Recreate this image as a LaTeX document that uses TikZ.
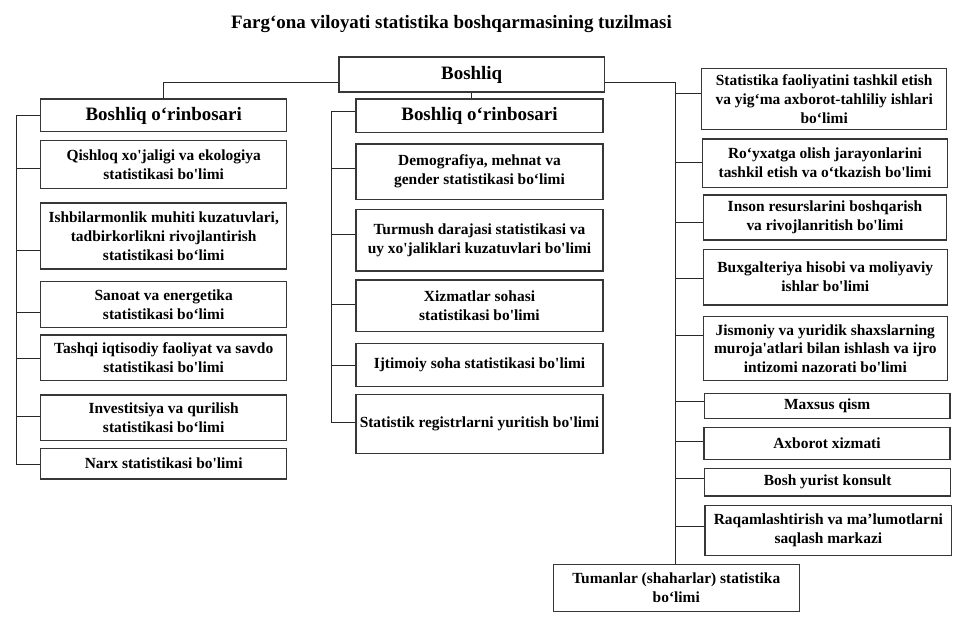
\documentclass[tikz,border=0pt]{standalone}
\usepackage{fontspec}
\setmainfont{Liberation Serif}
\newcommand{\ap}{\textquotesingle}
\definecolor{boxc}{RGB}{55,55,55}
\definecolor{wirec}{RGB}{40,40,40}
\begin{document}
\begin{tikzpicture}[x=1bp,y=-1bp,
  box/.style={draw=boxc, line width=1.3bp, align=center, inner sep=0pt,
    font=\fontsize{15.5}{19}\selectfont\bfseries},
  hdr/.style={box, font=\fontsize{19}{22}\selectfont\bfseries},
  wire/.style={draw=wirec, line width=1bp}]
\fill[white] (0,0) rectangle (968,640);
\useasboundingbox (0,0) rectangle (968,640);

\node[font=\fontsize{19}{22}\selectfont\bfseries] (title) at (451.5,24) {Farg‘ona viloyati statistika boshqarmasining tuzilmasi};

% top
\node[hdr, minimum width=265.3bp, minimum height=35bp] (boss) at (471.7,74.5) {Boshliq};
\node[hdr, minimum width=246bp, minimum height=32.7bp] (dep1) at (163.7,115.5) {Boshliq o‘rinbosari};
\node[hdr, minimum width=247bp, minimum height=33.4bp] (dep2) at (479.5,115.8) {Boshliq o‘rinbosari};

% left column
\node[box, minimum width=246bp, minimum height=47.6bp] (L1) at (163.7,164.5) {Qishloq xo\ap jaligi va ekologiya\\statistikasi bo\ap limi};
\node[box, minimum width=246bp, minimum height=66bp] (L2) at (163.7,236) {Ishbilarmonlik muhiti kuzatuvlari,\\tadbirkorlikni rivojlantirish\\statistikasi bo‘limi};
\node[box, minimum width=246bp, minimum height=46bp] (L3) at (163.7,304.7) {Sanoat va energetika\\statistikasi bo‘limi};
\node[box, minimum width=246bp, minimum height=45.7bp] (L4) at (163.7,357.85) {Tashqi iqtisodiy faoliyat va savdo\\statistikasi bo\ap limi};
\node[box, minimum width=246bp, minimum height=45.7bp] (L5) at (163.7,417.85) {Investitsiya va qurilish\\statistikasi bo‘limi};
\node[box, minimum width=246bp, minimum height=30.7bp] (L6) at (163.7,463.65) {Narx statistikasi bo\ap limi};

% centre column
\node[box, minimum width=247bp, minimum height=55.3bp] (C1) at (479.5,171.7) {Demografiya, mehnat va\\gender statistikasi bo‘limi};
\node[box, minimum width=247bp, minimum height=61.7bp] (C2) at (479.5,240.2) {Turmush darajasi statistikasi va\\uy xo\ap jaliklari kuzatuvlari bo\ap limi};
\node[box, minimum width=247bp, minimum height=51.7bp] (C3) at (479.5,305.8) {Xizmatlar sohasi\\statistikasi bo\ap limi};
\node[box, minimum width=247bp, minimum height=43.4bp] (C4) at (479.5,365) {Ijtimoiy soha statistikasi bo\ap limi};
\node[box, minimum width=247bp, minimum height=59bp] (C5) at (479.5,423.8) {Statistik registrlarni yuritish bo\ap limi};

% right column
\node[box, minimum width=245bp, minimum height=61bp] (R1) at (824.2,98.8) {Statistika faoliyatini tashkil etish\\va yig‘ma axborot-tahliliy ishlari\\bo‘limi};
\node[box, minimum width=244.6bp, minimum height=48.3bp] (R2) at (825,163.15) {Ro‘yxatga olish jarayonlarini\\tashkil etish va o‘tkazish bo\ap limi};
\node[box, minimum width=243.4bp, minimum height=45bp] (R3) at (825,217.5) {Inson resurslarini boshqarish\\va rivojlanritish bo\ap limi};
\node[box, minimum width=244bp, minimum height=55.7bp] (R4) at (825.3,277.15) {Buxgalteriya hisobi va moliyaviy\\ishlar bo\ap limi};
\node[box, minimum width=244bp, minimum height=64bp] (R5) at (825.3,348.7) {Jismoniy va yuridik shaxslarning\\muroja\ap atlari bilan ishlash va ijro\\intizomi nazorati bo\ap limi};
\node[box, minimum width=245.7bp, minimum height=25bp] (R6) at (827.15,405.8) {Maxsus qism};
\node[box, minimum width=246bp, minimum height=31.6bp] (R7) at (827,443.5) {Axborot xizmati};
\node[box, minimum width=246bp, minimum height=27.7bp] (R8) at (827.7,482.15) {Bosh yurist konsult};
\node[box, minimum width=246.7bp, minimum height=50bp] (R9) at (828.35,530.7) {Raqamlashtirish va ma’lumotlarni\\saqlash markazi};
\node[box, minimum width=246bp, minimum height=47.4bp] (tum) at (676.3,588) {Tumanlar (shaharlar) statistika\\bo‘limi};

% bus coordinates
\coordinate (lb) at (16.7,116);
\coordinate (cb) at (331.7,111.7);
\coordinate (rb) at (675.3,82.3);

% top connectors
\draw[wire] (boss.west |- rb) -| (dep1.north);
\draw[wire] (boss.south) -- (boss.south |- dep2.north);
\draw[wire] (boss.east |- rb) -- (rb) -- (rb |- tum.north);

% left bus
\draw[wire] (dep1.west |- lb) -- (lb) -- (lb |- 0,464) -- (L6.west |- 0,464);
\draw[wire] (lb |- 0,169) -- (L1.west |- 0,169);
\draw[wire] (lb |- 0,250.7) -- (L2.west |- 0,250.7);
\draw[wire] (lb |- 0,312.7) -- (L3.west |- 0,312.7);
\draw[wire] (lb |- 0,358) -- (L4.west |- 0,358);
\draw[wire] (lb |- 0,416.7) -- (L5.west |- 0,416.7);

% centre bus
\draw[wire] (dep2.west |- cb) -- (cb) -- (cb |- 0,422.7) -- (C5.west |- 0,422.7);
\draw[wire] (cb |- 0,169) -- (C1.west |- 0,169);
\draw[wire] (cb |- 0,235) -- (C2.west |- 0,235);
\draw[wire] (cb |- 0,304.7) -- (C3.west |- 0,304.7);
\draw[wire] (cb |- 0,365.7) -- (C4.west |- 0,365.7);

% right bus ticks
\draw[wire] (rb |- 0,93.3) -- (R1.west |- 0,93.3);
\draw[wire] (rb |- 0,162.7) -- (R2.west |- 0,162.7);
\draw[wire] (rb |- 0,222.7) -- (R3.west |- 0,222.7);
\draw[wire] (rb |- 0,278.3) -- (R4.west |- 0,278.3);
\draw[wire] (rb |- 0,335) -- (R5.west |- 0,335);
\draw[wire] (rb |- 0,401) -- (R6.west |- 0,401);
\draw[wire] (rb |- 0,441.7) -- (R7.west |- 0,441.7);
\draw[wire] (rb |- 0,478.7) -- (R8.west |- 0,478.7);
\draw[wire] (rb |- 0,526.7) -- (R9.west |- 0,526.7);
\end{tikzpicture}
\end{document}
